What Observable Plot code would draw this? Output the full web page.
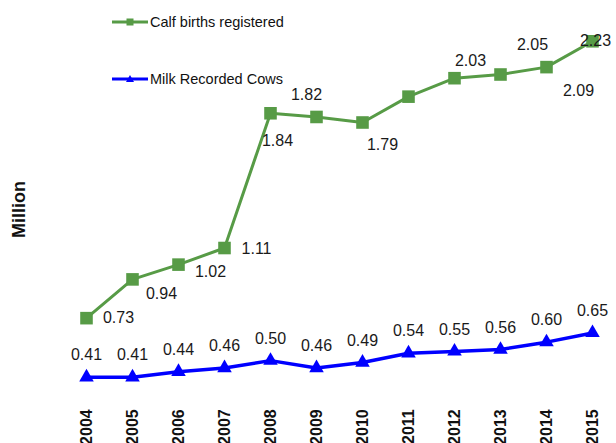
<!DOCTYPE html>
<html><head><meta charset="utf-8">
<script src="https://cdn.jsdelivr.net/npm/d3@7"></script>
<script src="https://cdn.jsdelivr.net/npm/@observablehq/plot@0.6"></script>
<style>
body{margin:0;background:#fff;font-family:Arial,"Liberation Sans",sans-serif;}
#wrap{position:relative;width:616px;height:443px;overflow:hidden;}
.leg{position:absolute;left:112px;height:16px;display:flex;align-items:center;font-size:14.5px;color:#111;white-space:nowrap;}
.leg svg{display:block;margin-right:2px;}
</style></head><body>
<div id="wrap"></div>
<script>
// ---- data ----
const years = ["2004","2005","2006","2007","2008","2009","2010","2011","2012","2013","2014","2015"];
const calfBirths = [0.73, 0.94, 1.02, 1.11, 1.84, 1.82, 1.79, 1.93, 2.03, 2.05, 2.09, 2.23];
const calfLabels = ["0.73","0.94","1.02","1.11","1.84","1.82","1.79","","2.03","2.05","2.09","2.23"];
const milkCows = [0.41, 0.41, 0.44, 0.46, 0.50, 0.46, 0.49, 0.54, 0.55, 0.56, 0.60, 0.65];
const milkLabels = ["0.41","0.41","0.44","0.46","0.50","0.46","0.49","0.54","0.55","0.56","0.60","0.65"];
const seriesNames = ["Calf births registered", "Milk Recorded Cows"];
const yAxisLabel = "Million";

// ---- label placement (px offsets of each calf-birth label) ----
const calfLabelOffsets = [[32,0],[29,14],[32,7],[32,1],[7,28],[-10,-22],[20,22],[0,0],[16,-17],[32,-30],[32,24],[3,0]];

const green = "#579b46";
const blue = "#0000ff";

const calf = years.map((y, i) => ({year: y, value: calfBirths[i], label: calfLabels[i], off: calfLabelOffsets[i]}));
const milk = years.map((y, i) => ({year: y, value: milkCows[i], label: milkLabels[i]}));

const font = "Arial, 'Liberation Sans', sans-serif";

const chart = Plot.plot({
  width: 616, height: 443,
  marginTop: 9.4, marginBottom: 55.2, marginLeft: 82.3, marginRight: 20.5,
  x: {type: "point", domain: years, padding: 0},
  y: {domain: [0.35, 2.4], axis: null},
  style: {fontFamily: font, background: "transparent", overflow: "visible"},
  marks: [
    Plot.axisX({tickSize: 0, tickRotate: -90, tickPadding: 21, fontSize: 16, fontWeight: "bold", label: null, fill: "#111"}),
    Plot.line(milk, {x: "year", y: "value", stroke: blue, strokeWidth: 3.5}),
    Plot.dot(milk, {x: "year", y: "value", symbol: "triangle", r: 5.4, fill: blue, stroke: null}),
    Plot.line(calf, {x: "year", y: "value", stroke: green, strokeWidth: 3}),
    Plot.dot(calf, {x: "year", y: "value", symbol: "square", r: 7.1, fill: green, stroke: null}),
    Plot.text(milk, {x: "year", y: "value", text: "label", dy: -22, fontSize: 16, fill: "#1a1a1a"}),
    ...calf.filter(d => d.label).map(d =>
      Plot.text([d], {x: "year", y: "value", text: "label", dx: d.off[0], dy: d.off[1], fontSize: 16, fill: "#1a1a1a"})),
    Plot.text([yAxisLabel], {frameAnchor: "left", dx: -64, dy: 39, rotate: -90, fontSize: 18, fontWeight: "bold", fill: "#111"})
  ]
});

const wrap = document.getElementById("wrap");
wrap.appendChild(chart);

// legend overlay
function legendItem(name, color, symbol, top) {
  const div = document.createElement("div");
  div.className = "leg";
  div.style.top = (top - 8) + "px";
  const marker = symbol === "square"
    ? `<rect x="14.5" y="3.5" width="7" height="7" fill="${color}"/>`
    : `<path d="M18,3 L22,10 L14,10 Z" fill="${color}"/>`;
  div.innerHTML = `<svg width="36" height="14"><line x1="0" x2="36" y1="7" y2="7" stroke="${color}" stroke-width="3"/>${marker}</svg><span>${name}</span>`;
  wrap.appendChild(div);
}
legendItem(seriesNames[0], green, "square", 22);
legendItem(seriesNames[1], blue, "triangle", 79);
</script>
</body></html>
